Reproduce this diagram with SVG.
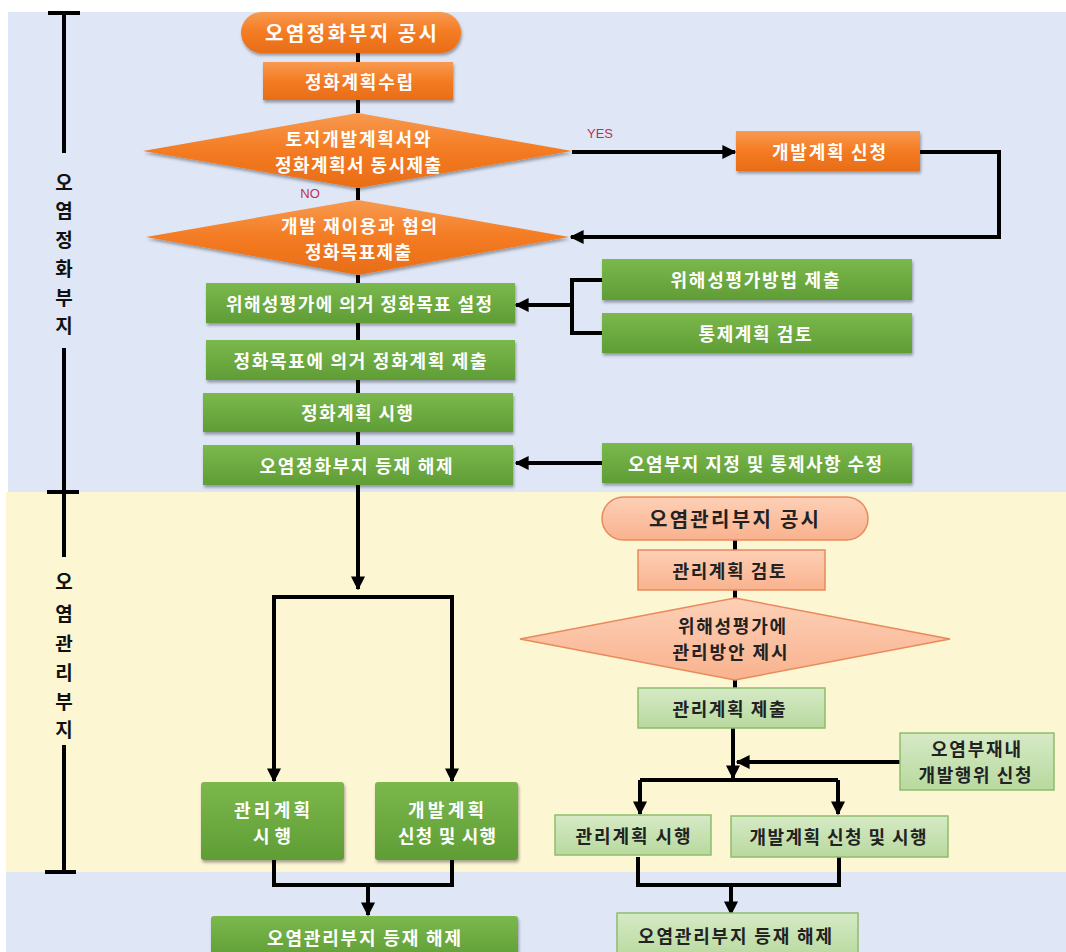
<svg xmlns="http://www.w3.org/2000/svg" width="1066" height="952" viewBox="0 0 1066 952">
  <style>
    .t { font-family: "Noto Sans CJK KR", "Noto Sans", sans-serif; font-weight: bold; text-anchor: middle; dominant-baseline: central; }
    .w { fill: #ffffff; font-size: 18px; }
    .d { fill: #222222; font-size: 18px; }
    .ax { fill: #111111; font-size: 19px; }
    .lbl { font-family: "Liberation Sans", Arial, sans-serif; font-size: 13px; fill: #c0304f; text-anchor: middle; }
    .orange { fill: url(#gOrange); filter: url(#shadow); }
    .green { fill: url(#gGreen); filter: url(#shadow); }
    .lgreen { fill: url(#gLGreen); stroke: #8dbd6c; stroke-width: 1.5; }
    .salmon { fill: url(#gSalmon); stroke: #e88a5c; stroke-width: 1.5; }
    .ln { fill: none; stroke: #000; stroke-width: 4; }
    .arr { fill: none; stroke: #000; stroke-width: 4; marker-end: url(#ah); }
    .axis { fill: none; stroke: #000; stroke-width: 4; }
  </style>
  <defs>
    <linearGradient id="gOrange" x1="0" y1="0" x2="0" y2="1">
      <stop offset="0" stop-color="#f89a50"/>
      <stop offset="0.5" stop-color="#f47b22"/>
      <stop offset="1" stop-color="#e86d17"/>
    </linearGradient>
    <linearGradient id="gGreen" x1="0" y1="0" x2="0" y2="1">
      <stop offset="0" stop-color="#7bb84c"/>
      <stop offset="1" stop-color="#5f9d36"/>
    </linearGradient>
    <linearGradient id="gLGreen" x1="0" y1="0" x2="0" y2="1">
      <stop offset="0" stop-color="#d6eac6"/>
      <stop offset="1" stop-color="#b8d99e"/>
    </linearGradient>
    <linearGradient id="gSalmon" x1="0" y1="0" x2="0" y2="1">
      <stop offset="0" stop-color="#fdd0b6"/>
      <stop offset="1" stop-color="#f9b28e"/>
    </linearGradient>
    <filter id="shadow" x="-10%" y="-20%" width="120%" height="150%">
      <feDropShadow dx="1" dy="2.5" stdDeviation="1.5" flood-color="#000" flood-opacity="0.35"/>
    </filter>
    <marker id="ah" viewBox="0 0 10 10" refX="9" refY="5" markerUnits="userSpaceOnUse" markerWidth="14" markerHeight="14" orient="auto">
      <path d="M0,0 L10,5 L0,10 z" fill="#000"/>
    </marker>
  </defs>

  <!-- background bands -->
  <rect x="0" y="0" width="1066" height="952" fill="#ffffff"/>
  <rect x="8" y="12" width="1058" height="480" fill="#dfe7f7"/>
  <rect x="6" y="492" width="1060" height="380" fill="#fdf6d3"/>
  <rect x="6" y="872" width="1060" height="80" fill="#dfe7f7"/>

  <!-- side axis -->
  <g id="axis">
    <path class="axis" d="M48,13 H80 M64,13 V153 M64,348 V557 M47,492 H79 M64,745 V872 M45,872 H76"/>
    <text class="t ax" x="64" y="181">오</text>
    <text class="t ax" x="64" y="209">염</text>
    <text class="t ax" x="64" y="238">정</text>
    <text class="t ax" x="64" y="267">화</text>
    <text class="t ax" x="64" y="296">부</text>
    <text class="t ax" x="64" y="324">지</text>
    <text class="t ax" x="64" y="580">오</text>
    <text class="t ax" x="64" y="612">염</text>
    <text class="t ax" x="64" y="642">관</text>
    <text class="t ax" x="64" y="671">리</text>
    <text class="t ax" x="64" y="700">부</text>
    <text class="t ax" x="64" y="728">지</text>
  </g>

  <!-- connectors -->
  <g id="connectors">
    <path class="ln" d="M358,53 V62 M358,100 V113 M358,188 V200 M358,275 V283 M358,323 V340 M358,380 V393 M358,432 V445"/>
    <path class="arr" d="M572,152 H735"/>
    <path class="arr" d="M920,152 H999 V237 H571"/>
    <path class="ln" d="M602,280 H572 V333 H602"/>
    <path class="arr" d="M572,305 H516"/>
    <path class="arr" d="M602,463 H516"/>
    <path class="arr" d="M358,485 V589"/>
    <path class="arr" d="M358,597 H274 V781"/>
    <path class="arr" d="M358,597 H452 V781"/>
    <path class="ln" d="M274,860 V885 H452 V860"/>
    <path class="arr" d="M368,885 V915"/>
    <path class="ln" d="M735,540 V550 M735,590 V598 M735,680 V688"/>
    <path class="arr" d="M733,728 V778"/>
    <path class="ln" d="M640,780 H838"/>
    <path class="arr" d="M640,780 V814"/>
    <path class="arr" d="M838,780 V814"/>
    <path class="arr" d="M900,762 H737"/>
    <path class="ln" d="M638,857 V885 H839 V857"/>
    <path class="arr" d="M731,885 V914"/>
    <text class="lbl" x="600" y="138">YES</text>
    <text class="lbl" x="310" y="198">NO</text>
  </g>

  <!-- cleanup-site flow -->
  <g id="n-remed-notice">
    <rect class="orange" x="241" y="12" width="220" height="41" rx="20.5"/>
    <text class="t w" x="351" y="32" style="font-size:20px" textLength="172" lengthAdjust="spacing">오염정화부지 공시</text>
  </g>
  <g id="n-remed-plan">
    <rect class="orange" x="263" y="62" width="190" height="38"/>
    <text class="t w" x="359" y="81" textLength="108" lengthAdjust="spacing">정화계획수립</text>
  </g>
  <g id="n-simul-submit">
    <polygon class="orange" points="358,113 572,151 358,188 143,151"/>
    <text class="t w" x="358" y="138" textLength="145" lengthAdjust="spacing">토지개발계획서와</text>
    <text class="t w" x="358" y="164" textLength="166" lengthAdjust="spacing">정화계획서 동시제출</text>
  </g>
  <g id="n-dev-apply">
    <rect class="orange" x="736" y="131" width="184" height="40"/>
    <text class="t w" x="829" y="151" textLength="114" lengthAdjust="spacing">개발계획 신청</text>
  </g>
  <g id="n-goal-submit">
    <polygon class="orange" points="358,200 569,237 358,275 146,237"/>
    <text class="t w" x="359" y="225" textLength="156" lengthAdjust="spacing">개발 재이용과 협의</text>
    <text class="t w" x="358" y="251" textLength="106" lengthAdjust="spacing">정화목표제출</text>
  </g>
  <g id="n-goal-set">
    <rect class="green" x="206" y="283" width="309" height="40"/>
    <text class="t w" x="359" y="303" textLength="266" lengthAdjust="spacing">위해성평가에 의거 정화목표 설정</text>
  </g>
  <g id="n-risk-method">
    <rect class="green" x="602" y="259" width="310" height="41"/>
    <text class="t w" x="755" y="279" textLength="169" lengthAdjust="spacing">위해성평가방법 제출</text>
  </g>
  <g id="n-control-review">
    <rect class="green" x="602" y="313" width="310" height="40"/>
    <text class="t w" x="755" y="333" textLength="113" lengthAdjust="spacing">통제계획 검토</text>
  </g>
  <g id="n-plan-submit">
    <rect class="green" x="206" y="340" width="309" height="40"/>
    <text class="t w" x="360" y="360" textLength="253" lengthAdjust="spacing">정화목표에 의거 정화계획 제출</text>
  </g>
  <g id="n-plan-exec">
    <rect class="green" x="203" y="393" width="310" height="39"/>
    <text class="t w" x="357" y="412" textLength="112" lengthAdjust="spacing">정화계획 시행</text>
  </g>
  <g id="n-remed-release">
    <rect class="green" x="203" y="445" width="310" height="40"/>
    <text class="t w" x="356" y="465" textLength="193" lengthAdjust="spacing">오염정화부지 등재 해제</text>
  </g>
  <g id="n-site-revise">
    <rect class="green" x="602" y="443" width="310" height="40"/>
    <text class="t w" x="755" y="463" textLength="254" lengthAdjust="spacing">오염부지 지정 및 통제사항 수정</text>
  </g>

  <!-- managed-site flow, left branch -->
  <g id="n-mgmt-exec-l">
    <rect class="green" x="201" y="782" width="143" height="78" rx="3"/>
    <text class="t w" x="272" y="809" textLength="76" lengthAdjust="spacing">관리계획</text>
    <text class="t w" x="272" y="835" textLength="38" lengthAdjust="spacing">시행</text>
  </g>
  <g id="n-dev-exec-l">
    <rect class="green" x="375" y="782" width="143" height="78" rx="3"/>
    <text class="t w" x="446" y="809" textLength="76" lengthAdjust="spacing">개발계획</text>
    <text class="t w" x="447" y="835" textLength="98" lengthAdjust="spacing">신청 및 시행</text>
  </g>
  <g id="n-mgmt-release-l">
    <rect class="green" x="211" y="916" width="307" height="44" rx="3"/>
    <text class="t w" x="364" y="937" textLength="194" lengthAdjust="spacing">오염관리부지 등재 해제</text>
  </g>

  <!-- managed-site flow, right branch -->
  <g id="n-mgmt-notice">
    <rect class="salmon" x="602" y="497" width="266" height="43" rx="21.5"/>
    <text class="t d" x="734" y="518" style="font-size:20px" textLength="170" lengthAdjust="spacing">오염관리부지 공시</text>
  </g>
  <g id="n-mgmt-review">
    <rect class="salmon" x="638" y="550" width="187" height="40"/>
    <text class="t d" x="729" y="570" textLength="113" lengthAdjust="spacing">관리계획 검토</text>
  </g>
  <g id="n-mgmt-measure">
    <polygon class="salmon" points="735,598 950,639 735,680 520,639"/>
    <text class="t d" x="732" y="625" textLength="108" lengthAdjust="spacing">위해성평가에</text>
    <text class="t d" x="730" y="651" textLength="115" lengthAdjust="spacing">관리방안 제시</text>
  </g>
  <g id="n-mgmt-submit">
    <rect class="lgreen" x="638" y="688" width="187" height="40"/>
    <text class="t d" x="729" y="708" textLength="113" lengthAdjust="spacing">관리계획 제출</text>
  </g>
  <g id="n-dev-act-apply">
    <rect class="lgreen" x="900" y="733" width="154" height="57"/>
    <text class="t d" x="976" y="748" textLength="90" lengthAdjust="spacing">오염부재내</text>
    <text class="t d" x="975" y="774" textLength="113" lengthAdjust="spacing">개발행위 신청</text>
  </g>
  <g id="n-mgmt-exec-r">
    <rect class="lgreen" x="555" y="815" width="156" height="40"/>
    <text class="t d" x="633" y="835" textLength="115" lengthAdjust="spacing">관리계획 시행</text>
  </g>
  <g id="n-dev-exec-r">
    <rect class="lgreen" x="731" y="816" width="217" height="41"/>
    <text class="t d" x="838" y="836" textLength="177" lengthAdjust="spacing">개발계획 신청 및 시행</text>
  </g>
  <g id="n-mgmt-release-r">
    <rect class="lgreen" x="617" y="913" width="241" height="45"/>
    <text class="t d" x="735" y="935" textLength="194" lengthAdjust="spacing">오염관리부지 등재 해제</text>
  </g>
</svg>
